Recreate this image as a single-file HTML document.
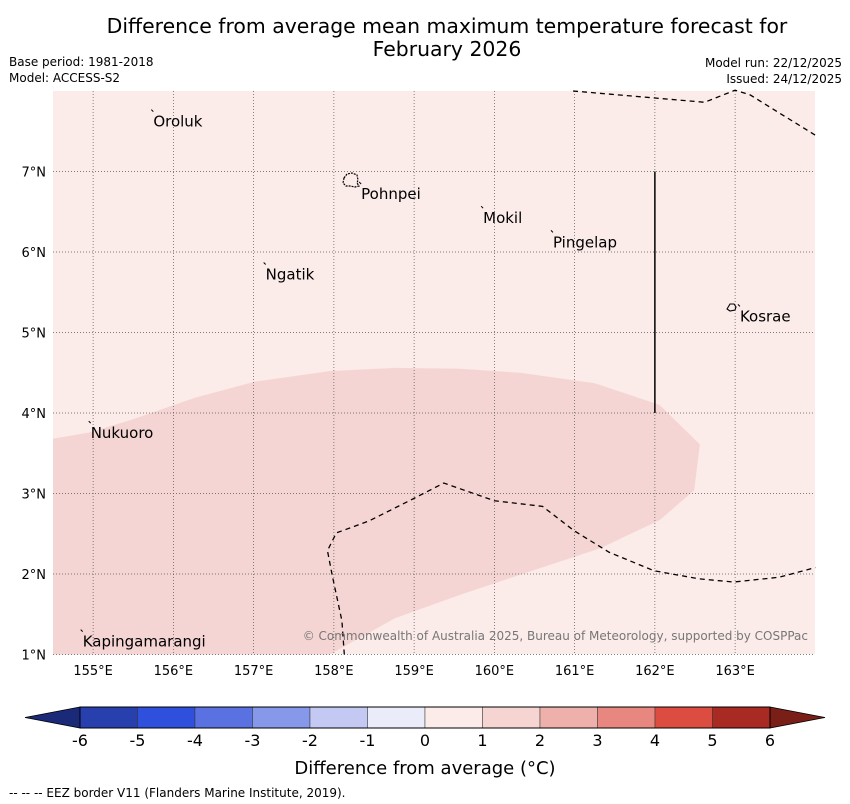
<!DOCTYPE html>
<html><head><meta charset="utf-8"><style>
body{margin:0;background:#fff;font-family:"Liberation Sans","DejaVu Sans",sans-serif}
svg{display:block}
</style></head><body>
<svg id="c" width="850" height="804" xmlns="http://www.w3.org/2000/svg" font-family="DejaVu Sans, Liberation Sans, sans-serif">
<text x="447" y="33" font-size="20.4" text-anchor="middle">Difference from average mean maximum temperature forecast for</text>
<text x="447" y="56" font-size="20.4" text-anchor="middle">February 2026</text>
<text x="9" y="66" font-size="12">Base period: 1981-2018</text>
<text x="9" y="82" font-size="12">Model: ACCESS-S2</text>
<text x="842" y="67" font-size="12" text-anchor="end">Model run: 22/12/2025</text>
<text x="842" y="83" font-size="12" text-anchor="end">Issued: 24/12/2025</text>
<g id="map"></g>
<g id="cbar"></g>
<text x="425" y="774" font-size="18" text-anchor="middle">Difference from average (°C)</text>
<text x="9" y="797" font-size="12">--  --  -- EEZ border V11 (Flanders Marine Institute, 2019).</text>
</svg>
<script>
const lonTicks=[155,156,157,158,159,160,161,162,163];
const latTicks=[1,2,3,4,5,6,7];
const anomLon=[154.5,154.96,155.46,156.27,157.02,157.95,158.76,159.57,160.32,161.25,162.06,162.56,162.49,162.06,161.32,160.32,159.57,158.76,157.95,154.5];
const anomLat=[3.68,3.76,3.91,4.19,4.39,4.52,4.56,4.55,4.50,4.37,4.10,3.61,3.04,2.67,2.32,1.99,1.74,1.45,1.0,1.0];
const eez1Lon=[160.98,162.62,163.0,163.19,164.0];
const eez1Lat=[8.0,7.86,8.01,7.95,7.45];
const eez2Lon=[158.13,158.1,157.98,157.92,158.03,158.44,158.94,159.37,160.0,160.6,160.99,161.43,161.99,162.55,162.98,163.55,164.0];
const eez2Lat=[1.0,1.42,1.98,2.29,2.51,2.66,2.91,3.13,2.91,2.84,2.54,2.27,2.04,1.94,1.90,1.96,2.08];
const places=["Oroluk","Pohnpei","Mokil","Pingelap","Ngatik","Kosrae","Nukuoro","Kapingamarangi"];
const placeLon=[155.75,158.34,159.86,160.73,157.15,163.06,154.97,154.87];
const placeLat=[7.62,6.72,6.42,6.12,5.72,5.20,3.75,1.16];
const cbLevels=[-6,-5,-4,-3,-2,-1,0,1,2,3,4,5,6];
const cbColors=["#283fae","#2f50dc","#5a72e1","#8598ea","#c3c9f3","#eaecfa","#fbecea","#f5d4d2","#eeb0aa","#e8877f","#dc4c40","#a92a22"];
const NS="http://www.w3.org/2000/svg";
const X0=53,X1=815,Y0=91,Y1=654;
const lonX=l=>X0+(l-154.5)*80.25;
const latY=l=>Y0+(8.0-l)*80.5;
function mk(p,t,a){const e=document.createElementNS(NS,t);for(const k in a)e.setAttribute(k,a[k]);p.appendChild(e);return e;}
const map=document.getElementById('map');
let bg=mk(map,'rect',{x:X0,y:Y0,width:X1-X0,height:Y1-Y0,fill:'#fbebe9'});


let poly=mk(map,'polygon',{points:anomLon.map((l,i)=>lonX(l)+','+latY(anomLat[i])).join(' '),fill:'#f5d5d3'});


lonTicks.forEach(l=>{const x=lonX(l);
 let g=mk(map,'line',{x1:x,x2:x,y1:Y0,y2:Y1,stroke:'#555','stroke-width':0.7,'stroke-dasharray':'1,2'});
 
 
 let t=mk(map,'text',{x:x,y:675,'font-size':13,'text-anchor':'middle'});t.textContent=l+'°E';
 
 });
latTicks.forEach(l=>{const y=latY(l);
 let g=mk(map,'line',{x1:X0,x2:X1,y1:y,y2:y,stroke:'#555','stroke-width':0.7,'stroke-dasharray':'1,2'});
 
 
 let t=mk(map,'text',{x:46,y:y+5,'font-size':13,'text-anchor':'end'});t.textContent=l+'°N';
 
 });
[[eez1Lon,eez1Lat],[eez2Lon,eez2Lat]].forEach(([lo,la])=>{
 let p=mk(map,'polyline',{points:lo.map((l,i)=>lonX(l)+','+latY(la[i])).join(' '),fill:'none',stroke:'#000','stroke-width':1.3,'stroke-dasharray':'5,4'});
 
 });
let vl=mk(map,'line',{x1:lonX(162),x2:lonX(162),y1:latY(7),y2:latY(4),stroke:'#000','stroke-width':1.5});


let pb=mk(map,'path',{d:'M344,178 l3,-4 5,-1 5,2 1,5 -1,3 2,3 -4,1 -5,-1 -4,0 -3,-3z',fill:'none',stroke:'#000','stroke-width':1.2,'stroke-dasharray':'2,1'});


let kb=mk(map,'path',{d:'M727,309 l3,-5 4,0 2,3 -1,3 -5,1z',fill:'none',stroke:'#000','stroke-width':1.1});


places.forEach((n,i)=>{const x=lonX(placeLon[i]),y=latY(placeLat[i]);
 let t=mk(map,'text',{x:x,y:y+5,'font-size':15});t.textContent=n;
 
 
 let m=mk(map,'line',{x1:x-2,y1:y-12,x2:x,y2:y-10,stroke:'#000','stroke-width':1});
 
 });
let cp=mk(map,'text',{x:808,y:640,'font-size':12,'text-anchor':'end',fill:'#777'});cp.textContent='© Commonwealth of Australia 2025, Bureau of Meteorology, supported by COSPPac';


const cb=document.getElementById('cbar');
const CB0=80,CB1=770,CY0=707,CY1=728;
const cx=v=>CB0+(v+6)*(CB1-CB0)/12;
let tl=mk(cb,'polygon',{points:`${CB0},${CY0} 25,${(CY0+CY1)/2} ${CB0},${CY1}`,fill:'#1b2a78',stroke:'#000','stroke-width':0.8});


let tr=mk(cb,'polygon',{points:`${CB1},${CY0} 825,${(CY0+CY1)/2} ${CB1},${CY1}`,fill:'#7a1e18',stroke:'#000','stroke-width':0.8});


cbColors.forEach((c,i)=>{const a=cx(cbLevels[i]),b=cx(cbLevels[i+1]);
 let r=mk(cb,'rect',{x:a,y:CY0,width:b-a,height:CY1-CY0,fill:c,stroke:'#333','stroke-width':0.5});
 
 });
mk(cb,'rect',{x:CB0,y:CY0,width:CB1-CB0,height:CY1-CY0,fill:'none',stroke:'#000','stroke-width':1});
cbLevels.forEach(v=>{let t=mk(cb,'text',{x:cx(v),y:746,'font-size':16,'text-anchor':'middle'});t.textContent=v;
 
 });
</script>
</body></html>
